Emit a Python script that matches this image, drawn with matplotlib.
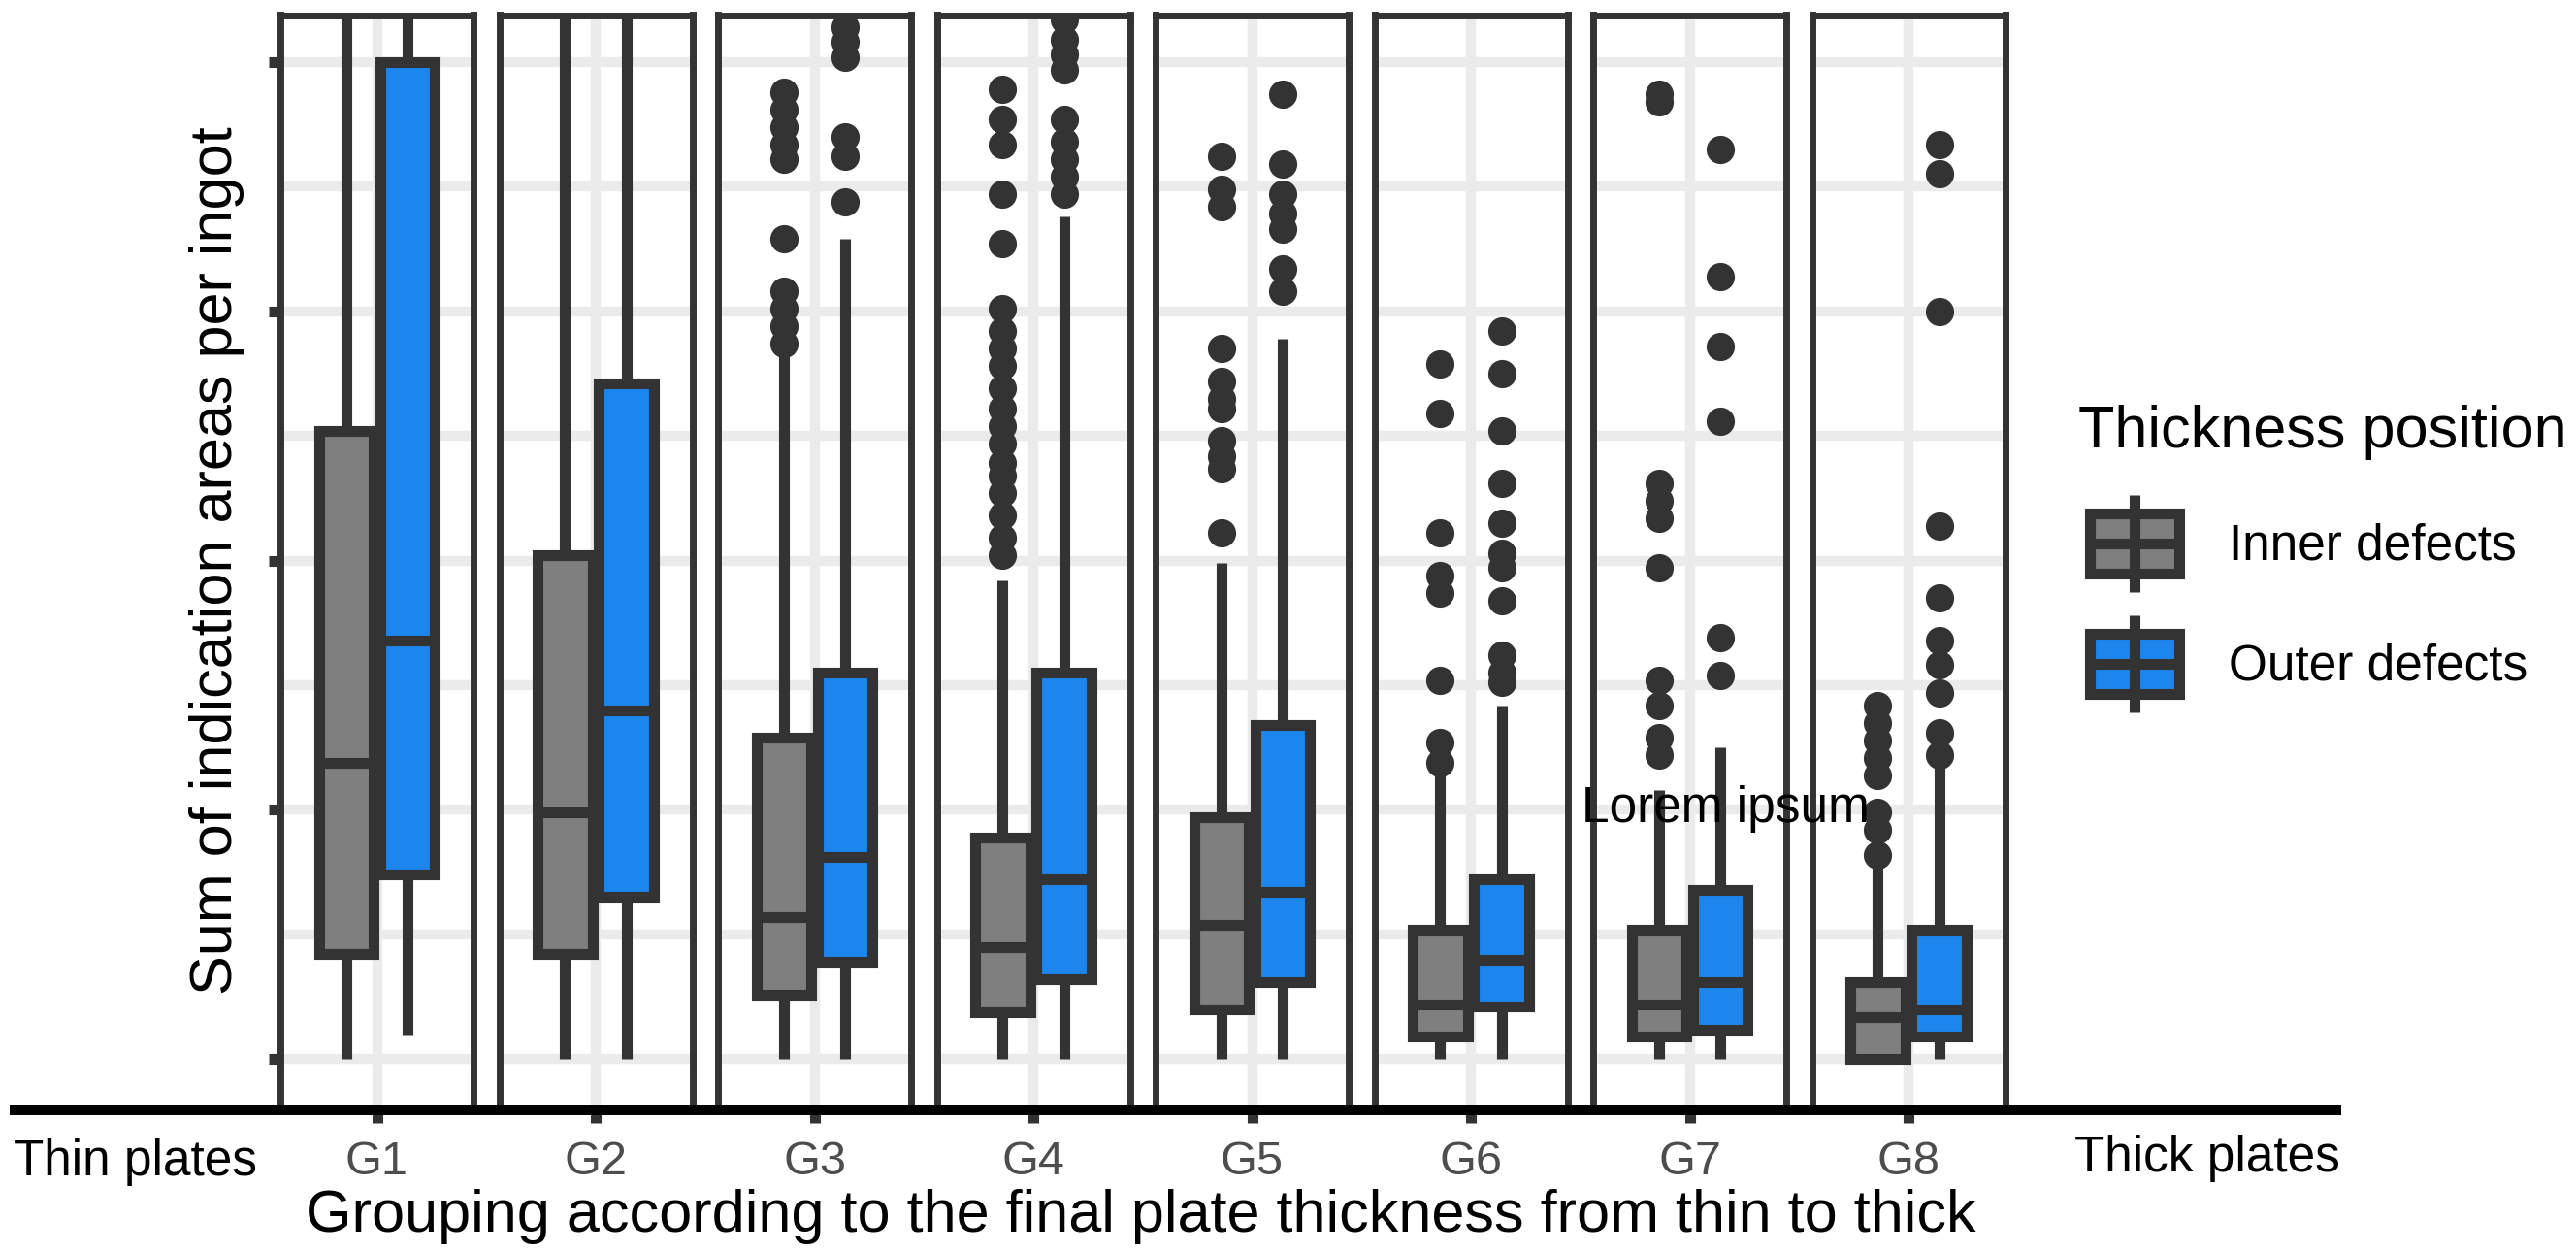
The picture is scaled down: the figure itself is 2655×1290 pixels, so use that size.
import numpy as np
import matplotlib.pyplot as plt
from matplotlib.patches import Rectangle

plt.rcParams['font.family'] = ['Liberation Sans', 'DejaVu Sans']

# groups from thin to thick plates
groups = ['G1', 'G2', 'G3', 'G4', 'G5', 'G6', 'G7', 'G8']

# inner defects (grey boxes)
inner_low = [0, 0, 0, 0, 0, 0, 0, 0]
inner_q1 = [0.42, 0.42, 0.26, 0.19, 0.20, 0.09, 0.09, 0.0]
inner_med = [1.19, 0.99, 0.57, 0.45, 0.54, 0.22, 0.22, 0.17]
inner_q3 = [2.52, 2.02, 1.29, 0.89, 0.97, 0.52, 0.52, 0.31]
inner_high = [4.6, 4.6, 2.83, 1.92, 1.99, 1.17, 1.08, 0.82]
inner_out = [
    [],
    [],
    [2.87, 2.94, 3.01, 3.08, 3.29, 3.61, 3.67, 3.74, 3.81, 3.88],
    [2.02, 2.09, 2.18, 2.27, 2.34, 2.39, 2.47, 2.54, 2.61, 2.69, 2.78, 2.85, 2.92, 3.01,
     3.27, 3.47, 3.67, 3.77, 3.89],
    [2.11, 2.37, 2.42, 2.48, 2.61, 2.65, 2.72, 2.85, 3.42, 3.49, 3.62],
    [1.19, 1.27, 1.52, 1.87, 1.94, 2.11, 2.59, 2.79],
    [1.22, 1.29, 1.42, 1.52, 1.97, 2.17, 2.24, 2.31, 3.84, 3.87],
    [0.82, 0.92, 0.99, 1.14, 1.21, 1.28, 1.35, 1.42],
]

# outer defects (blue boxes)
outer_low = [0.10, 0, 0, 0, 0, 0, 0, 0]
outer_q1 = [0.74, 0.65, 0.39, 0.32, 0.31, 0.21, 0.12, 0.09]
outer_med = [1.68, 1.40, 0.81, 0.72, 0.67, 0.40, 0.31, 0.20]
outer_q3 = [4.00, 2.71, 1.55, 1.55, 1.34, 0.72, 0.68, 0.52]
outer_high = [4.6, 4.6, 3.29, 3.38, 2.89, 1.42, 1.25, 1.17]
outer_out = [
    [],
    [],
    [3.44, 3.62, 3.70, 4.02, 4.08, 4.14],
    [3.47, 3.54, 3.61, 3.68, 3.77, 3.97, 4.03, 4.09, 4.17],
    [3.08, 3.17, 3.33, 3.39, 3.47, 3.59, 3.87],
    [1.51, 1.55, 1.62, 1.84, 1.97, 2.03, 2.15, 2.31, 2.52, 2.75, 2.92],
    [1.54, 1.69, 2.56, 2.86, 3.14, 3.65],
    [1.22, 1.31, 1.47, 1.58, 1.68, 1.85, 2.14, 3.00, 3.55, 3.67],
]

series = ['Inner defects', 'Outer defects']
fills = ['#7F7F7F', '#1C86EE']
edge = '#333333'

W, H = 2655, 1290
fig = plt.figure(figsize=(W / 100, H / 100), dpi=100)


def px_rect(left, top, width, height):
    return [left / W, 1 - (top + height) / H, width / W, height / H]


axes = []
for i, g in enumerate(groups):
    ax = fig.add_axes(px_rect(289 + 225.5 * i, 15.5, 199, 1127.5))
    stats = [
        dict(whislo=inner_low[i], q1=inner_q1[i], med=inner_med[i], q3=inner_q3[i],
             whishi=inner_high[i], fliers=inner_out[i]),
        dict(whislo=outer_low[i], q1=outer_q1[i], med=outer_med[i], q3=outer_q3[i],
             whishi=outer_high[i], fliers=outer_out[i]),
    ]
    bp = ax.bxp(stats, positions=[0.81, 1.19], widths=0.34, patch_artist=True,
                showcaps=False,
                boxprops=dict(edgecolor=edge, linewidth=8),
                whiskerprops=dict(color=edge, linewidth=8, solid_capstyle='butt'),
                medianprops=dict(color=edge, linewidth=8, solid_capstyle='butt'),
                flierprops=dict(marker='o', markerfacecolor=edge, markeredgewidth=0,
                                markersize=21))
    for patch, fc in zip(bp['boxes'], fills):
        patch.set_facecolor(fc)

    ax.set_xlim(0.4, 1.6)
    ax.set_ylim(-0.201, 4.188)
    ax.set_xticks([1])
    ax.set_xticklabels([g])
    ax.set_yticks([0, 1, 2, 3, 4])
    ax.set_yticks(np.arange(0.5, 4, 1), minor=True)
    ax.set_yticklabels([])
    ax.set_axisbelow(True)
    ax.grid(True, which='both', color='#EBEBEB', linewidth=7.5)
    ax.tick_params(axis='x', length=10, width=8, color=edge, labelcolor='#4D4D4D',
                   labelsize=35, pad=13)
    ax.tick_params(axis='y', which='minor', length=0)
    if i == 0:
        ax.tick_params(axis='y', which='major', length=8.6, width=8, color=edge)
    else:
        ax.tick_params(axis='y', which='major', length=0)
    for sp in ax.spines.values():
        sp.set_color(edge)
        sp.set_linewidth(5)
    axes.append(ax)

# overlay in pixel coordinates for the base line, side labels, note and legend
ov = fig.add_axes([0, 0, 1, 1], zorder=5)
ov.set_xlim(0, W)
ov.set_ylim(H, 0)
ov.set_axis_off()

ov.plot([10, 2413], [1144, 1144], color='black', linewidth=7.2, solid_capstyle='butt')

ov.text(1778, 847, 'Lorem ipsum', size=37, ha='center', va='baseline')

ov.text(140, 1197, 'Thin plates', size=37, ha='center', va='center')
ov.text(2275, 1194, 'Thick plates', size=37, ha='center', va='center')
ov.text(1176, 1253, 'Grouping according to the final plate thickness from thin to thick',
        size=44, ha='center', va='center')
ov.text(224, 578, 'Sum of indication areas per ingot', size=44, rotation=90,
        ha='center', va='center')

# legend
ov.text(2142, 461, 'Thickness position', size=44, ha='left', va='baseline')
for j, (name, fc) in enumerate(zip(series, fills)):
    yc = 560 + 124 * j
    ov.plot([2200, 2200], [yc - 50, yc + 50], color=edge, linewidth=8, solid_capstyle='butt')
    ov.add_patch(Rectangle((2154, yc - 31), 92, 62, facecolor=fc, edgecolor=edge, linewidth=8))
    ov.plot([2154, 2246], [yc, yc], color=edge, linewidth=8, solid_capstyle='butt')
    ov.text(2297, yc + 3, name, size=37, ha='left', va='center')

fig.savefig('out.png', dpi=100, facecolor='white')
